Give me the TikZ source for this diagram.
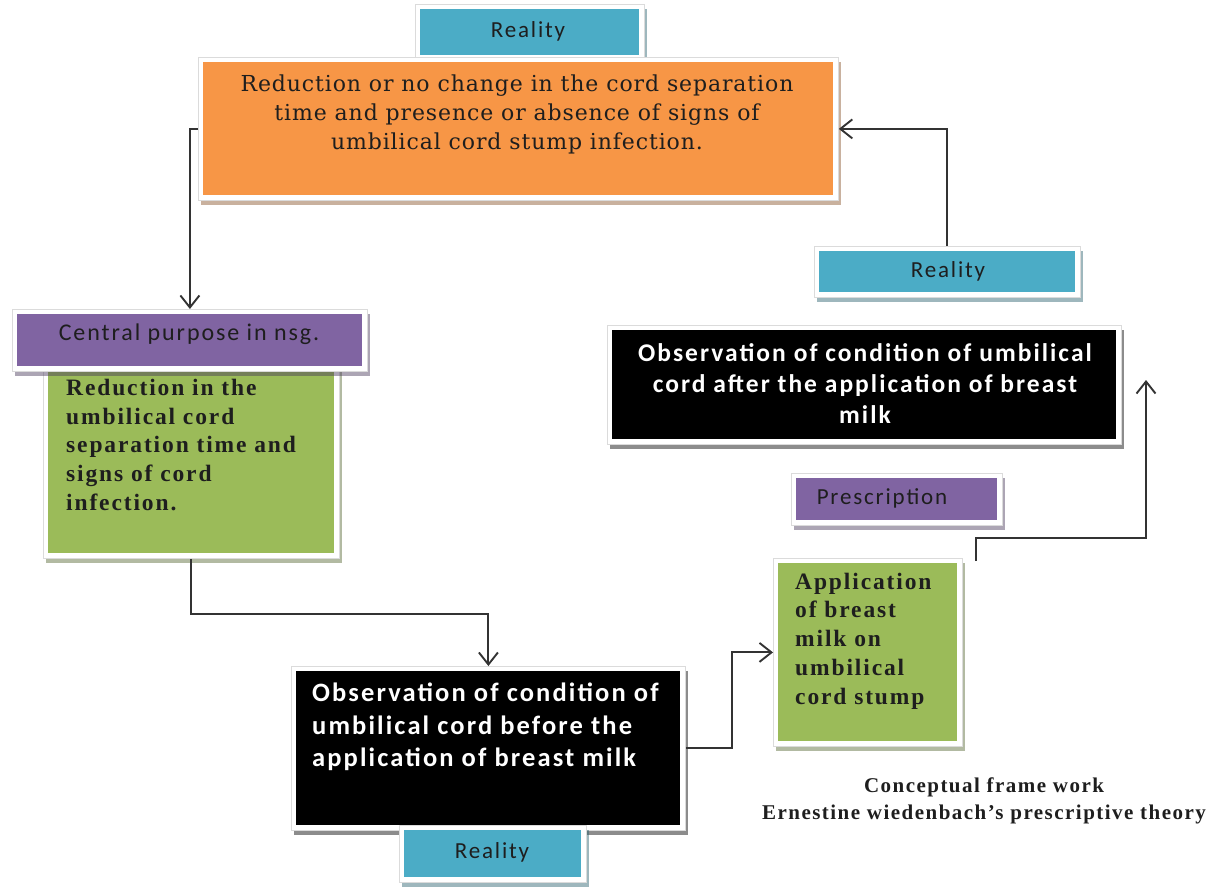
\documentclass[tikz,border=0pt]{standalone}
\usepackage{fontspec}
\setmainfont{DejaVu Serif}
\newfontfamily\labelfont{Carlito}[LetterSpace=8]
\newfontfamily\greenfont{Liberation Serif}[LetterSpace=8]
\newfontfamily\orangefont{DejaVu Serif}[LetterSpace=4]
\newfontfamily\captionfont{Liberation Serif}[LetterSpace=7]
\usetikzlibrary{arrows.meta,shadows,calc}

\definecolor{cTeal}{HTML}{4BACC6}
\definecolor{cOrange}{HTML}{F79646}
\definecolor{cPurple}{HTML}{8064A2}
\definecolor{cGreen}{HTML}{9BBB59}
\definecolor{cLine}{HTML}{333333}
\definecolor{cText}{HTML}{1E1E1E}

\tikzset{
  panel/.style={anchor=north west, inner sep=0pt, fill=white, draw=black!14, line width=0.8pt,
    drop shadow={shadow xshift=3pt, shadow yshift=-5pt, fill=#1!55!black, opacity=0.45},
    path picture={\fill[#1] ([shift={(5pt,-5pt)}]path picture bounding box.north west)
      rectangle ([shift={(-5pt,5pt)}]path picture bounding box.south east);}},
  lbl/.style={inner sep=0pt, text=cText, font=\labelfont\fontsize{23}{27}\selectfont},
  blacktext/.style={inner sep=0pt, text=white, font=\labelfont\bfseries\fontsize{26.5}{32.5}\selectfont},
  greentext/.style={inner sep=0pt, text=cText, align=left, font=\greenfont\bfseries\fontsize{23.5}{28.7}\selectfont},
  arr/.style={draw=cLine, line width=1.9pt, -{Straight Barb[length=12pt,width=19pt]}},
}

\begin{document}
\begin{tikzpicture}[x=1pt,y=-1pt]
\useasboundingbox (0,0) rectangle (1212,886);

% boxes
\node[panel=cTeal,  minimum width=229pt, minimum height=56pt]  (realT)  at (415,4) {};
\node[panel=cOrange,minimum width=640pt, minimum height=143pt] (orange) at (198,57) {};
\node[panel=cTeal,  minimum width=266pt, minimum height=51pt]  (realR)  at (814,246) {};
\node[panel=cGreen, minimum width=296pt, minimum height=208pt] (greenL) at (43,350) {};
\node[panel=cPurple,minimum width=355pt, minimum height=62pt]  (purple) at (12,309) {};
\node[panel=black,  minimum width=514pt, minimum height=119pt] (blackR) at (607,325) {};
\node[panel=cPurple,minimum width=211pt, minimum height=52pt]  (prescr) at (791,473) {};
\node[panel=cGreen, minimum width=189pt, minimum height=188pt] (greenR) at (773,558) {};
\node[panel=black,  minimum width=394pt, minimum height=164pt] (blackL) at (291,666) {};
\node[panel=cTeal,  minimum width=187pt, minimum height=57pt]  (realB)  at (399,825) {};

% texts
\node[lbl] (realTt) at (528,31) {Reality};
\node[inner sep=0pt, text=cText, align=center, font=\orangefont\fontsize{22}{29}\selectfont] (orangeT) at (517,114)
  {Reduction or no change in the cord separation\\ time and presence or absence of signs of\\ umbilical cord stump infection.};
\node[lbl] (realRt) at (948,271) {Reality};
\node[lbl, font=\labelfont\fontsize{24}{28}\selectfont] (purpleT) at (189,334) {Central purpose in nsg.};
\node[greentext, anchor=west] (greenLt) at (66,445)
  {Reduction in the\\umbilical cord\\separation time and\\signs of cord\\infection.};
\node[blacktext, align=center, font=\labelfont\bfseries\fontsize{25.5}{31}\selectfont] (blackRt) at (865,384)
  {Observation of condition of umbilical\\cord after the application of breast\\milk};
\node[lbl] (prescrT) at (882,498) {Prescription};
\node[greentext, anchor=west] (greenRt) at (795,641)
  {Application\\of breast\\milk on\\umbilical\\cord stump};
\node[blacktext, anchor=west, align=left] (blackLt) at (312,727)
  {Observation of condition of\\umbilical cord before the\\application of breast milk};
\node[lbl] (realBt) at (492,852) {Reality};
\node[inner sep=0pt, text=cText, align=center, font=\captionfont\bfseries\fontsize{21}{27}\selectfont] (caption) at (984,801)
  {Conceptual frame work\\Ernestine wiedenbach’s prescriptive theory};

% connectors
\draw[arr] (realR.north) |- (orange.east);
\draw[arr] (orange.west) -| (purple.north);
\draw[arr] (greenL.south) -- ++(0,55) -| (blackL.north);
\draw[arr] (blackL.east) -- ++(46,0) |- (greenR.west);
\coordinate (eS) at (976,561);
\coordinate (eT) at (1146,380);
\draw[arr] (eS) -- ++(0,-23) -| (eT);
\end{tikzpicture}
\end{document}
